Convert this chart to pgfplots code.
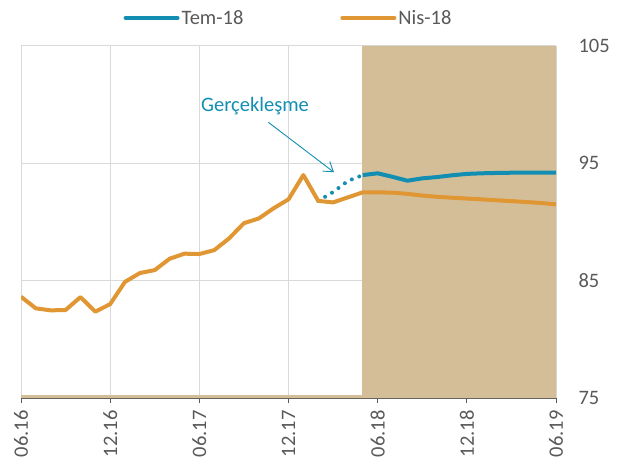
\documentclass[border=0pt]{standalone}
\usepackage{fontspec}
\setmainfont{Carlito}
\usepackage{pgfplots}
\pgfplotsset{compat=1.18}
\usetikzlibrary{arrows.meta}
\definecolor{cblue}{HTML}{118EB2}
\definecolor{corange}{HTML}{E09632}
\definecolor{ctan}{HTML}{D4BE98}
\definecolor{cgrid}{HTML}{D9D9D9}
\definecolor{ctext}{HTML}{595959}
\newcommand{\lbl}{\fontsize{20.5}{24}\selectfont}
\begin{document}
\begin{tikzpicture}
\begin{axis}[
  at={(0,0)}, anchor=south west,
  scale only axis, width=535pt, height=352pt,
  xmin=0, xmax=36, ymin=75, ymax=105,
  axis x line=bottom, axis y line=right,
  x axis line style={-, draw=ctext, line width=1pt},
  y axis line style={draw=none},
  xtick={0,6,...,36},
  xticklabels={06.16,12.16,06.17,12.17,06.18,12.18,06.19},
  ytick={75,85,95,105},
  grid=major,
  major grid style={draw=cgrid, line width=1pt},
  xtick style={draw=ctext, line width=1pt},
  ytick style={draw=none},
  tick align=outside,
  major tick length=5pt,
  /pgf/number format/assume math mode=true,
  tick label style={font=\lbl, text=ctext},
  xticklabel style={rotate=90, anchor=east},
  xticklabel shift=4pt,
  yticklabel shift=14pt,
  legend columns=2,
  legend style={at={(0.5,1)}, anchor=south, yshift=18pt, draw=none, fill=none,
    font=\lbl, text=ctext, inner sep=0pt,
    /tikz/every even column/.append style={column sep=95pt}},
  legend cell align=left,
  legend image code/.code={\draw[#1, line width=4pt, line cap=round] (0pt,0pt) -- (52pt,0pt);},
]
% shaded forecast area
\addplot[fill=ctan, draw=none, forget plot] coordinates {
 (0,75) (0,75.25) (22.95,75.25) (22.95,105) (36,105) (36,75)} -- cycle;
% Tem-18 dotted (realised)
\addplot[cblue, line width=4pt, line cap=round, dash pattern=on 0pt off 8pt, forget plot] coordinates {
 (20,91.8) (21,92.55) (22,93.5) (23,94.0)};
% Tem-18 forecast
\addplot[cblue, line width=4pt, line join=round] coordinates {
 (23,94.0) (24,94.15) (25,93.85) (26,93.52) (27,93.72) (28,93.83) (29,93.98)
 (30,94.1) (31,94.15) (32,94.18) (33,94.2) (34,94.2) (35,94.2) (36,94.2)};
\addlegendentry{Tem-18}
% Nis-18
\addplot[corange, line width=4pt, line join=round] coordinates {
 (0,83.63) (1,82.64) (2,82.47) (3,82.5) (4,83.6) (5,82.36) (6,83.0)
 (7,84.9) (8,85.65) (9,85.9) (10,86.87) (11,87.3) (12,87.27) (13,87.6)
 (14,88.6) (15,89.9) (16,90.3) (17,91.17) (18,91.93) (19,94.0) (20,91.8)
 (21,91.67) (22,92.1) (23,92.53) (24,92.53) (25,92.5) (26,92.4) (27,92.25)
 (28,92.15) (29,92.07) (30,92.0) (31,91.93) (32,91.85) (33,91.78) (34,91.7)
 (35,91.62) (36,91.5)};
\addlegendentry{Nis-18}
\node[font=\lbl, text=cblue] at (axis cs:15.75,99.9) {Gerçekleşme};
\draw[cblue, line width=0.9pt, -{Straight Barb[length=9pt, width=12pt]}]
  (axis cs:16.64,98.5) -- (axis cs:21.06,94.24);
\end{axis}
\pgfresetboundingbox
\useasboundingbox (-21pt,-68pt) rectangle (598pt,398pt);
\end{tikzpicture}
\end{document}
